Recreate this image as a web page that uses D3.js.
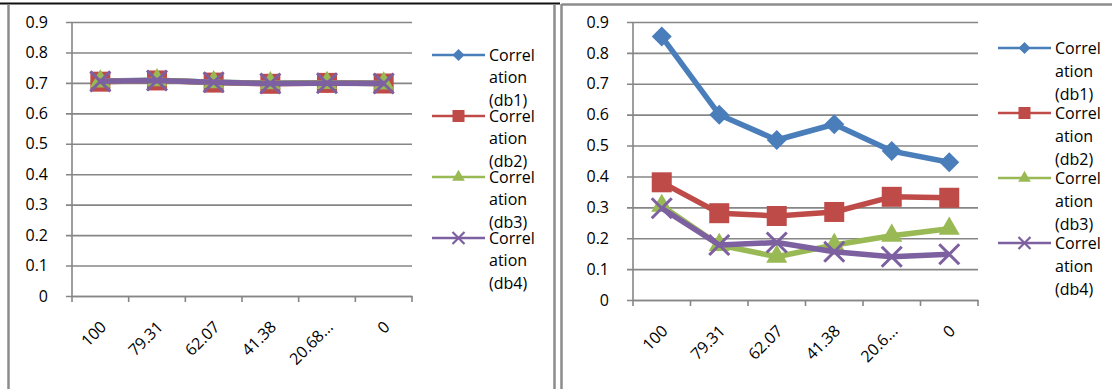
<!DOCTYPE html>
<html>
<head>
<meta charset="utf-8">
<script src="https://cdn.jsdelivr.net/npm/d3@7"></script>
<style>
  body { margin: 0; background: #fff; }
  svg { display: block; font-family: "Open Sans", sans-serif; }
</style>
</head>
<body>
<svg id="chart" width="1112" height="389"></svg>
<script>
// categories (x axis) - labels are truncated differently in each panel
const categories = ["100", "79.31", "62.07", "41.38", "20.68", "0"];
const leftTickLabels = ["100", "79.31", "62.07", "41.38", "20.68...", "0"];
const rightTickLabels = ["100", "79.31", "62.07", "41.38", "20.6...", "0"];
const yTickValues = [0, 0.1, 0.2, 0.3, 0.4, 0.5, 0.6, 0.7, 0.8, 0.9];
const seriesNames = ["Correlation (db1)", "Correlation (db2)", "Correlation (db3)", "Correlation (db4)"];

// left panel values
const leftDb1 = [0.706, 0.709, 0.702, 0.699, 0.700, 0.699];
const leftDb2 = [0.704, 0.708, 0.701, 0.697, 0.700, 0.698];
const leftDb3 = [0.705, 0.709, 0.702, 0.699, 0.700, 0.698];
const leftDb4 = [0.705, 0.708, 0.702, 0.698, 0.699, 0.698];

// right panel values
const rightDb1 = [0.853, 0.600, 0.518, 0.569, 0.482, 0.446];
const rightDb2 = [0.381, 0.281, 0.272, 0.285, 0.334, 0.331];
const rightDb3 = [0.305, 0.178, 0.140, 0.178, 0.208, 0.231];
const rightDb4 = [0.297, 0.178, 0.186, 0.156, 0.140, 0.148];

const colors = ["#4a7ebb", "#be4b48", "#98b954", "#7d60a0"];
const shapes = ["diamond", "square", "triangle", "x"];

const svg = d3.select("#chart");

function markerPath(shape, s) {
  // s = rough overall width of the marker
  if (shape === "diamond") return d3.symbol(d3.symbolSquare, (s * s) / 2)();
  if (shape === "square") return d3.symbol(d3.symbolSquare, s * s)();
  if (shape === "triangle") return d3.symbol(d3.symbolTriangle, s * s * 0.48)();
  const r = s / 2;
  return `M${-r},${-r}L${r},${r}M${-r},${r}L${r},${-r}`;
}

function drawMarker(g, shape, color, x, y, s, xWidth) {
  const p = g.append("path")
    .attr("d", markerPath(shape, s))
    .attr("transform", `translate(${x},${y})` + (shape === "diamond" ? " rotate(45)" : ""));
  if (shape === "x") {
    p.attr("fill", "none").attr("stroke", color).attr("stroke-width", xWidth);
  } else {
    p.attr("fill", color);
  }
}

function drawChart(cfg) {
  const g = svg.append("g");

  const x = d3.scaleBand().domain(categories).range([cfg.x0, cfg.x1]);
  const y = d3.scaleLinear().domain([0, 0.9]).range([cfg.yBottom, cfg.yTop]);

  // gridlines + y axis
  const yAxis = d3.axisLeft(y)
    .tickValues(yTickValues)
    .tickFormat(d => d === 0 ? "0" : d3.format(".1f")(d))
    .tickSize(-(cfg.x1 - cfg.x0))
    .tickPadding(0);
  const ya = g.append("g")
    .attr("transform", `translate(${cfg.x0},0)`)
    .call(yAxis);
  ya.select(".domain").remove();
  ya.selectAll(".tick line")
    .attr("x1", -6)
    .attr("stroke", "#868686")
    .attr("stroke-width", 1.6);
  ya.selectAll(".tick text")
    .attr("x", -24)
    .attr("font-size", 16)
    .attr("font-family", "Open Sans")
    .attr("fill", "#000");

  g.append("line")
    .attr("x1", cfg.x0).attr("x2", cfg.x0)
    .attr("y1", cfg.yTop).attr("y2", cfg.yBottom)
    .attr("stroke", "#868686").attr("stroke-width", 1.6);

  // x axis
  const xAxis = d3.axisBottom(x).tickSize(0).tickFormat((d, i) => cfg.tickLabels[i]);
  const xa = g.append("g")
    .attr("transform", `translate(0,${cfg.yBottom})`)
    .call(xAxis);
  xa.select(".domain").attr("stroke", "#868686").attr("stroke-width", 1.6);
  xa.selectAll(".tick text")
    .attr("font-size", 16)
    .attr("font-family", "Open Sans")
    .attr("fill", "#000")
    .attr("text-anchor", "end")
    .attr("dy", null)
    .attr("y", 0)
    .attr("transform", "translate(7,32) rotate(-45)");
  // boundary tick marks
  const bounds = categories.map(c => x(c)).concat([cfg.x1]);
  g.selectAll(null).data(bounds).join("line")
    .attr("x1", d => d).attr("x2", d => d)
    .attr("y1", cfg.yBottom).attr("y2", cfg.yBottom + 6)
    .attr("stroke", "#868686").attr("stroke-width", 1.6);

  // series
  const cx = c => x(c) + x.bandwidth() / 2;
  cfg.series.forEach((vals, si) => {
    const line = d3.line().x((d, i) => cx(categories[i])).y(d => y(d));
    g.append("path")
      .attr("d", line(vals))
      .attr("fill", "none")
      .attr("stroke", colors[si])
      .attr("stroke-width", 5.5)
      .attr("stroke-linejoin", "round");
    vals.forEach((v, i) => drawMarker(g, shapes[si], colors[si], cx(categories[i]), y(v), 20, 3));
  });

  // legend
  seriesNames.forEach((name, si) => {
    const ly = cfg.legendY + si * cfg.legendStep;
    g.append("line")
      .attr("x1", cfg.legendX).attr("x2", cfg.legendX + 53)
      .attr("y1", ly).attr("y2", ly)
      .attr("stroke", colors[si]).attr("stroke-width", 2.5);
    drawMarker(g, shapes[si], colors[si], cfg.legendX + 26.5, ly, 12, 2.2);
    const lines = [name.slice(0, 6), name.slice(6, 11), name.slice(12)];
    lines.forEach((t, li) => {
      g.append("text")
        .attr("x", cfg.legendX + 57)
        .attr("y", ly + li * cfg.lineH)
        .attr("dy", "0.35em")
        .attr("font-size", 16)
        .attr("fill", "#000")
        .text(t);
    });
  });
}

// frames
svg.append("line").attr("x1", 0).attr("x2", 560).attr("y1", 3.5).attr("y2", 3.5)
  .attr("stroke", "#111").attr("stroke-width", 2);
svg.append("line").attr("x1", 8.5).attr("x2", 8.5).attr("y1", 5).attr("y2", 389)
  .attr("stroke", "#8c8c8c").attr("stroke-width", 2.5);
svg.append("line").attr("x1", 554.5).attr("x2", 554.5).attr("y1", 4.5).attr("y2", 389)
  .attr("stroke", "#8c8c8c").attr("stroke-width", 2.5);
svg.append("line").attr("x1", 561.5).attr("x2", 1112).attr("y1", 4.5).attr("y2", 4.5)
  .attr("stroke", "#8c8c8c").attr("stroke-width", 2.5);
svg.append("line").attr("x1", 561.5).attr("x2", 561.5).attr("y1", 4).attr("y2", 389)
  .attr("stroke", "#8c8c8c").attr("stroke-width", 2.5);

drawChart({
  x0: 72, x1: 412, yTop: 22, yBottom: 296,
  tickLabels: leftTickLabels,
  series: [leftDb1, leftDb2, leftDb3, leftDb4],
  legendX: 432, legendY: 55, legendStep: 61, lineH: 22.5
});

drawChart({
  x0: 633, x1: 978, yTop: 22, yBottom: 300,
  tickLabels: rightTickLabels,
  series: [rightDb1, rightDb2, rightDb3, rightDb4],
  legendX: 998, legendY: 48, legendStep: 65, lineH: 23
});
</script>
</body>
</html>
